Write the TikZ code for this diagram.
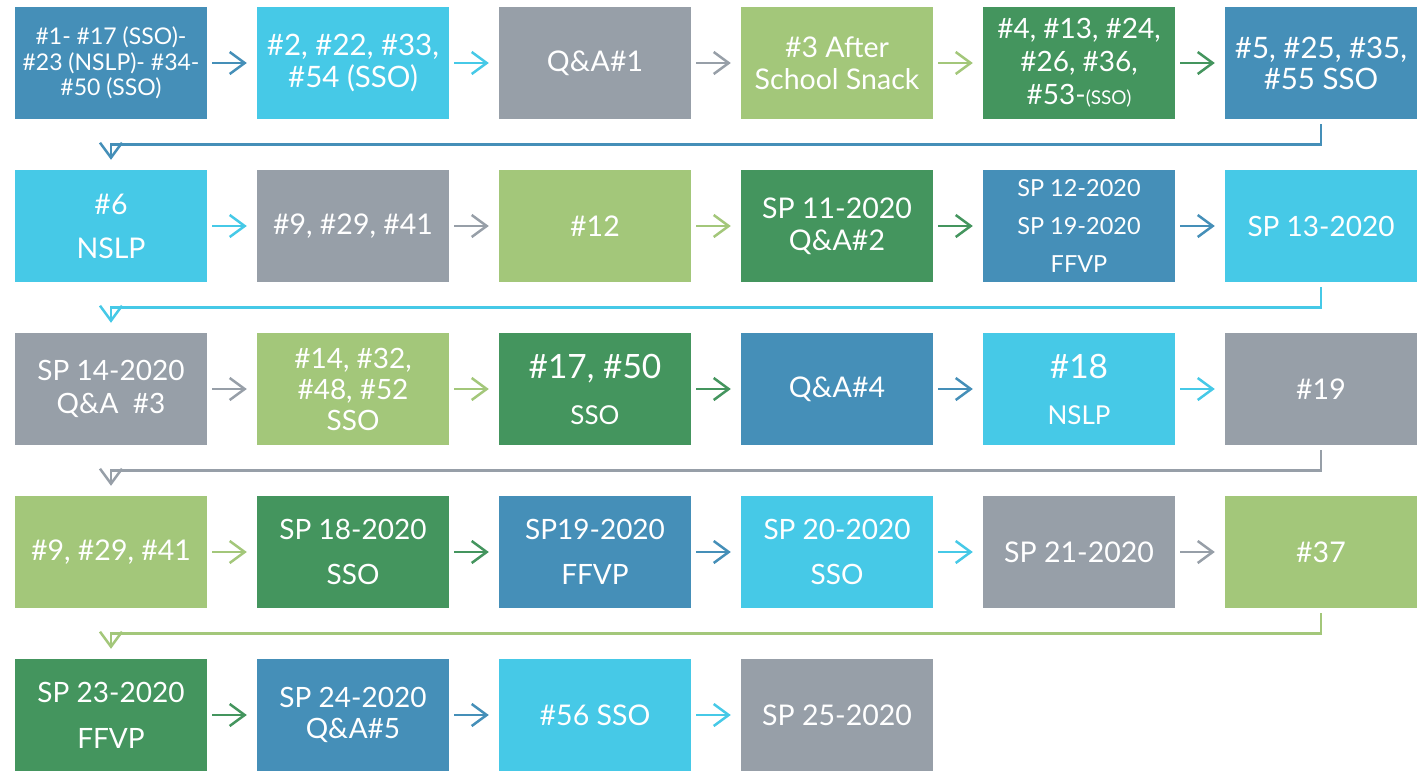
\documentclass[tikz,border=0pt]{standalone}
\usepackage{fontspec}
\setmainfont{Lato}
\usetikzlibrary{arrows.meta}
\definecolor{cblue}{HTML}{458FB8}
\definecolor{ccyan}{HTML}{46C9E7}
\definecolor{cgray}{HTML}{979FA8}
\definecolor{clgreen}{HTML}{A3C77A}
\definecolor{cdgreen}{HTML}{44955E}
\newcommand{\fsz}[2]{\fontsize{#1}{#2}\selectfont}
\tikzset{
  box/.style={fill=#1, text=white, minimum width=192pt, minimum height=112pt,
    inner sep=0pt, align=center, font=\fsz{28.5}{32}},
  flow/.style={draw=#1, line width=2.5pt, -{Straight Barb[length=15pt,width=22pt]},
    shorten <=5pt, shorten >=10pt},
  back/.style={flow=#1, rounded corners=0pt}
}
\begin{document}
\begin{tikzpicture}[x=1pt,y=1pt]
    \useasboundingbox (0,0) rectangle (1425,-772);
    % first row
    \node[box=cblue, font=\fsz{23}{25.5}] (a1) at (111,-63) {\#1- \#17 (SSO)-\\\#23 (NSLP)- \#34-\\\#50 (SSO)};
    \node[box=ccyan, font=\fsz{29.5}{32}] (a2) at (353,-63) {\#2, \#22, \#33,\\\#54 (SSO)};
    \node[box=cgray] (a3) at (595,-63) {Q\&A\#1};
    \node[box=clgreen] (a4) at (837,-63) {\#3 After\\School Snack};
    \node[box=cdgreen, font=\fsz{28}{33}] (a5) at (1079,-63) {\#4, \#13, \#24,\\\#26, \#36,\\\#53-{\fsz{19}{19}(SSO)}};
    \node[box=cblue, font=\fsz{29.5}{31}] (a6) at (1321,-63) {\#5, \#25, \#35,\\\#55 SSO};
    % second row
    \node[box=ccyan, font=\fsz{28.5}{44}] (b1) at (111,-226) {\#6\\NSLP};
    \node[box=cgray] (b2) at (353,-226) {\#9, \#29, \#41};
    \node[box=clgreen] (b3) at (595,-226) {\#12};
    \node[box=cdgreen] (b4) at (837,-226) {SP 11-2020\\Q\&A\#2};
    \node[box=cblue, font=\fsz{23.5}{38}] (b5) at (1079,-226) {SP 12-2020\\SP 19-2020\\FFVP};
    \node[box=ccyan, font=\fsz{28}{32}] (b6) at (1321,-226) {SP 13-2020};
    % third row
    \node[box=cgray, font=\fsz{28}{33}] (c1) at (111,-389) {SP 14-2020\\Q\&A~ \#3};
    \node[box=clgreen, font=\fsz{28}{31}] (c2) at (353,-389) {\#14, \#32,\\\#48, \#52\\SSO};
    \node[box=cdgreen, font=\fsz{26}{46}] (c3) at (595,-389) {{\fsz{33.5}{33.5}\#17, \#50}\\SSO};
    \node[box=cblue] (c4) at (837,-389) {Q\&A\#4};
    \node[box=ccyan, font=\fsz{26}{46}] (c5) at (1079,-389) {{\fsz{33.5}{33.5}\#18}\\NSLP};
    \node[box=cgray] (c6) at (1321,-389) {\#19};
    % fourth row
    \node[box=clgreen] (d1) at (111,-552) {\#9, \#29, \#41};
    \node[box=cdgreen, font=\fsz{28}{45}] (d2) at (353,-552) {SP 18-2020\\SSO};
    \node[box=cblue, font=\fsz{28}{45}] (d3) at (595,-552) {SP19-2020\\FFVP};
    \node[box=ccyan, font=\fsz{28}{45}] (d4) at (837,-552) {SP 20-2020\\SSO};
    \node[box=cgray] (d5) at (1079,-552) {SP 21-2020};
    \node[box=clgreen] (d6) at (1321,-552) {\#37};
    % fifth row
    \node[box=cdgreen, font=\fsz{28}{46}] (e1) at (111,-715) {SP 23-2020\\FFVP};
    \node[box=cblue, font=\fsz{28}{31}] (e2) at (353,-715) {SP 24-2020\\Q\&A\#5};
    \node[box=ccyan] (e3) at (595,-715) {\#56 SSO};
    \node[box=cgray] (e4) at (837,-715) {SP 25-2020};
    % arrows along the rows
    \draw[flow=cblue] (a1) -- (a2);
    \draw[flow=ccyan] (a2) -- (a3);
    \draw[flow=cgray] (a3) -- (a4);
    \draw[flow=clgreen] (a4) -- (a5);
    \draw[flow=cdgreen] (a5) -- (a6);
    \draw[flow=ccyan] (b1) -- (b2);
    \draw[flow=cgray] (b2) -- (b3);
    \draw[flow=clgreen] (b3) -- (b4);
    \draw[flow=cdgreen] (b4) -- (b5);
    \draw[flow=cblue] (b5) -- (b6);
    \draw[flow=cgray] (c1) -- (c2);
    \draw[flow=clgreen] (c2) -- (c3);
    \draw[flow=cdgreen] (c3) -- (c4);
    \draw[flow=cblue] (c4) -- (c5);
    \draw[flow=ccyan] (c5) -- (c6);
    \draw[flow=clgreen] (d1) -- (d2);
    \draw[flow=cdgreen] (d2) -- (d3);
    \draw[flow=cblue] (d3) -- (d4);
    \draw[flow=ccyan] (d4) -- (d5);
    \draw[flow=cgray] (d5) -- (d6);
    \draw[flow=cdgreen] (e1) -- (e2);
    \draw[flow=cblue] (e2) -- (e3);
    \draw[flow=ccyan] (e3) -- (e4);
    % back to the start of the next row
    \draw[back=cblue] (a6.south) -- ++(0,-25.5) -| (b1.north);
    \draw[back=ccyan] (b6.south) -- ++(0,-25.5) -| (c1.north);
    \draw[back=cgray] (c6.south) -- ++(0,-25.5) -| (d1.north);
    \draw[back=clgreen] (d6.south) -- ++(0,-25.5) -| (e1.north);
\end{tikzpicture}
\end{document}
